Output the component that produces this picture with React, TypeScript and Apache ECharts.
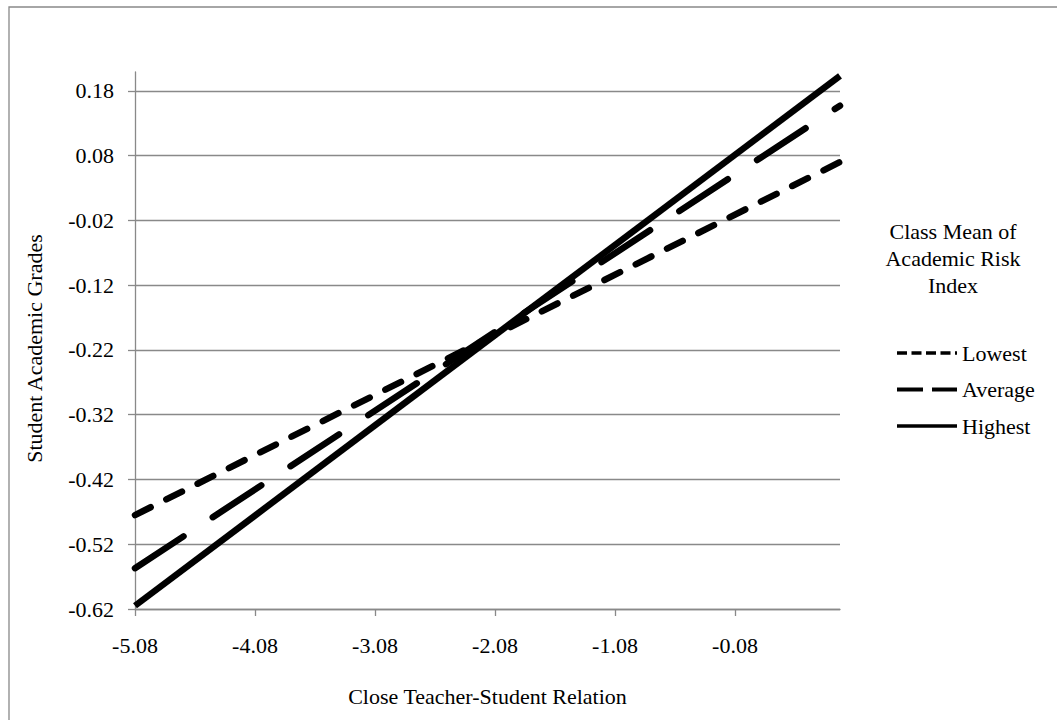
import React, { useEffect, useRef } from "react";
import * as echarts from "echarts";

const xValues = [-5.08, 0.795];
const lowest = [-0.475, 0.07];
const average = [-0.557, 0.157];
const highest = [-0.615, 0.203];
const xTicks = [-5.08, -4.08, -3.08, -2.08, -1.08, -0.08];
const yTicks = [-0.62, -0.52, -0.42, -0.32, -0.22, -0.12, -0.02, 0.08, 0.18];
const seriesNames = ["Lowest", "Average", "Highest"];
const legendTitle = "Class Mean of\nAcademic Risk\nIndex";

const FONT = "'Liberation Serif', 'Times New Roman', serif";
const GRAY = "#898989";

export default function App() {
  const ref = useRef<HTMLDivElement>(null);
  useEffect(() => {
    if (!ref.current) return;
    const chart = echarts.init(ref.current, undefined, { renderer: "svg" });
    const pair = (ys: number[]) => xValues.map((x, i) => [x, ys[i]]);
    const hidden = { opacity: 0, color: "transparent", borderWidth: 0 };
    chart.setOption({
      animation: false,
      backgroundColor: "#ffffff",
      textStyle: { fontFamily: FONT, color: "#000" },
      grid: { left: 135, right: 217, top: 72, bottom: 111, containLabel: false },
      xAxis: {
        type: "value",
        min: -5.08,
        max: 0.795,
        name: "Close Teacher-Student Relation",
        nameLocation: "middle",
        nameGap: 76,
        nameTextStyle: { fontSize: 22, fontFamily: FONT, color: "#000" },
        axisLine: { show: true, onZero: false, lineStyle: { color: GRAY, width: 1.3 } },
        axisTick: { show: true, inside: false, length: 7, lineStyle: { color: GRAY, width: 1.3 }, customValues: xTicks },
        axisLabel: {
          customValues: xTicks,
          fontSize: 22,
          fontFamily: FONT,
          color: "#000",
          margin: 25,
          formatter: (v: number) => v.toFixed(2),
        },
        splitLine: { show: false },
      },
      yAxis: {
        type: "value",
        min: -0.62,
        max: 0.209,
        name: "Student Academic Grades",
        nameLocation: "middle",
        nameGap: 90,
        nameTextStyle: { fontSize: 22, fontFamily: FONT, color: "#000", padding: [0, 16, 0, 0] },
        axisLine: { show: true, onZero: false, lineStyle: { color: GRAY, width: 1.3 } },
        axisTick: { show: true, inside: false, length: 7, lineStyle: { color: GRAY, width: 1.3 }, customValues: yTicks },
        axisLabel: {
          customValues: yTicks,
          fontSize: 22,
          fontFamily: FONT,
          color: "#000",
          margin: 21,
          formatter: (v: number) => v.toFixed(2),
        },
        splitLine: { show: true, lineStyle: { color: GRAY, width: 1.3 } },
      },
      legend: {
        orient: "vertical",
        left: 890,
        top: 337,
        itemWidth: 60,
        itemHeight: 14,
        itemGap: 14.5,
        selectedMode: false,
        itemStyle: hidden,
        textStyle: { fontSize: 22, fontFamily: FONT, color: "#000", lineHeight: 22 },
        data: [
          { name: seriesNames[0], itemStyle: hidden, lineStyle: { width: 3.5, type: [10, 4.5], cap: "butt" } },
          { name: seriesNames[1], itemStyle: hidden, lineStyle: { width: 4, type: [26, 9], cap: "butt" } },
          { name: seriesNames[2], itemStyle: hidden, lineStyle: { width: 3.5, type: "solid", cap: "butt" } },
        ],
      },
      graphic: [
        {
          type: "rect",
          shape: { x: 9, y: 7, width: 1200, height: 900 },
          style: { fill: "none", stroke: GRAY, lineWidth: 1.3 },
          silent: true,
          z: -1,
        },
        {
          type: "text",
          x: 953,
          y: 218,
          style: {
            text: legendTitle,
            fontSize: 22,
            fontFamily: FONT,
            fill: "#000",
            textAlign: "center",
            textVerticalAlign: "top",
            lineHeight: 27,
          },
        },
      ],
      series: [
        {
          name: seriesNames[0],
          type: "line",
          data: pair(lowest),
          symbol: "none",
          lineStyle: { color: "#000", width: 6.5, type: [17.5, 17.5], cap: "round" },
          itemStyle: { color: "#000" },
        },
        {
          name: seriesNames[1],
          type: "line",
          data: pair(average),
          symbol: "none",
          lineStyle: { color: "#000", width: 6.5, type: [58, 35], cap: "round" },
          itemStyle: { color: "#000" },
        },
        {
          name: seriesNames[2],
          type: "line",
          data: pair(highest),
          symbol: "none",
          lineStyle: { color: "#000", width: 6.5, type: "solid" },
          itemStyle: { color: "#000" },
        },
      ],
    });
    return () => chart.dispose();
  }, []);
  return (
    <div
      ref={ref}
      style={{ position: "fixed", left: 0, top: 0, width: 1057, height: 720, background: "#fff" }}
    />
  );
}
